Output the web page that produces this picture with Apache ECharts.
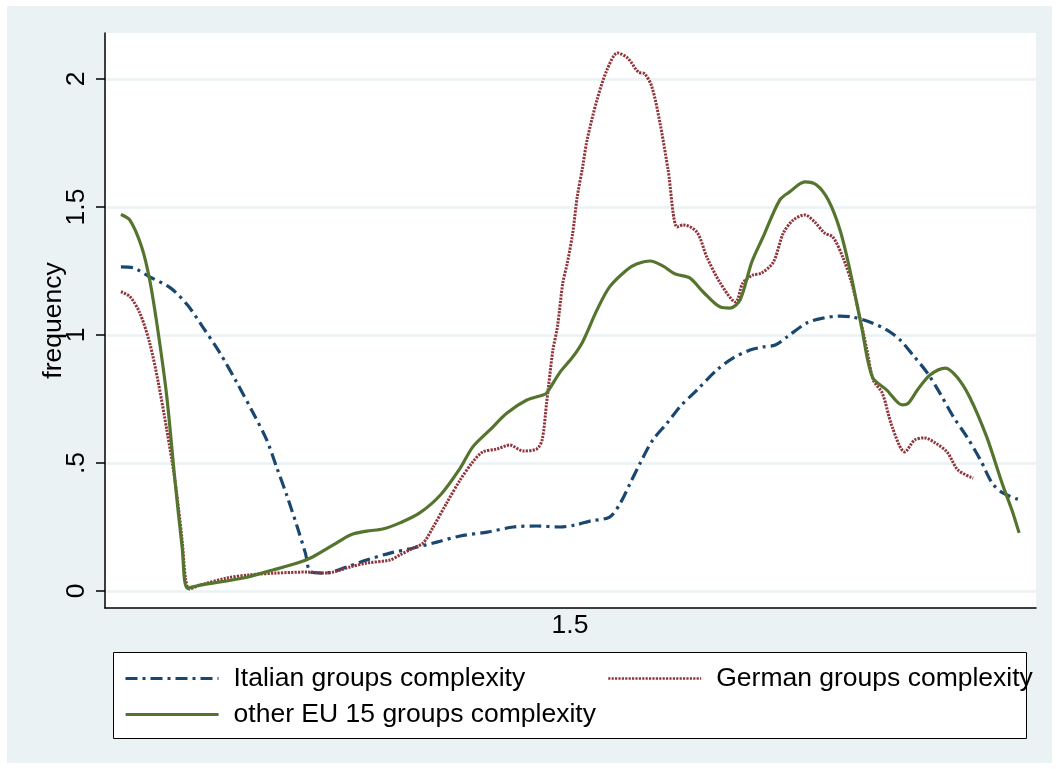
<!DOCTYPE html>
<html>
<head>
<meta charset="utf-8">
<title>Groups complexity density</title>
<script src="https://cdn.jsdelivr.net/npm/echarts@6/dist/echarts.min.js"></script>
<style>
  html, body { margin: 0; padding: 0; background: #ffffff; }
  #chart { position: absolute; left: 0; top: 0; width: 1058px; height: 769px; }
</style>
</head>
<body>
<div id="chart"></div>
<script>
// Tick labels
const yTicks = [0, 0.5, 1, 1.5, 2];
const xTicks = [1.5];

// Series names
const seriesNames = [
  'Italian groups complexity',
  'German groups complexity',
  'other EU 15 groups complexity'
];

// Italian groups: complexity (x) and frequency (y)
const italianX = [1.001, 1.015, 1.033, 1.056, 1.075, 1.092, 1.111, 1.130, 1.148, 1.163,
  1.174, 1.186, 1.197, 1.206, 1.212, 1.228, 1.252, 1.274, 1.300, 1.326,
  1.352, 1.378, 1.408, 1.437, 1.463, 1.489, 1.506, 1.522, 1.544, 1.556,
  1.567, 1.578, 1.592, 1.608, 1.622, 1.641, 1.663, 1.681, 1.700, 1.714,
  1.728, 1.741, 1.763, 1.781, 1.800, 1.814, 1.833, 1.852, 1.867, 1.881,
  1.897, 1.911, 1.926, 1.941, 1.956, 1.969, 1.981, 2.000];
const italianY = [1.266, 1.262, 1.227, 1.184, 1.117, 1.031, 0.930, 0.813, 0.695, 0.590,
  0.484, 0.367, 0.250, 0.148, 0.074, 0.070, 0.094, 0.121, 0.148, 0.168,
  0.191, 0.215, 0.230, 0.250, 0.254, 0.250, 0.258, 0.273, 0.289, 0.344,
  0.422, 0.500, 0.590, 0.656, 0.719, 0.785, 0.863, 0.910, 0.941, 0.953,
  0.961, 0.992, 1.047, 1.066, 1.074, 1.070, 1.051, 1.020, 0.980, 0.922,
  0.852, 0.773, 0.680, 0.602, 0.512, 0.422, 0.383, 0.355];

// German groups
const germanX = [1.001, 1.011, 1.022, 1.033, 1.042, 1.052, 1.061, 1.069, 1.073, 1.077,
  1.089, 1.119, 1.144, 1.174, 1.208, 1.226, 1.237, 1.256, 1.274, 1.300,
  1.311, 1.326, 1.337, 1.348, 1.363, 1.378, 1.392, 1.403, 1.419, 1.433,
  1.448, 1.463, 1.469, 1.474, 1.481, 1.486, 1.492, 1.497, 1.503, 1.508,
  1.514, 1.519, 1.530, 1.541, 1.553, 1.564, 1.576, 1.583, 1.591, 1.600,
  1.609, 1.619, 1.626, 1.641, 1.652, 1.667, 1.684, 1.692, 1.703, 1.713,
  1.726, 1.737, 1.748, 1.761, 1.772, 1.783, 1.792, 1.803, 1.813, 1.822,
  1.830, 1.837, 1.847, 1.858, 1.872, 1.883, 1.894, 1.906, 1.919, 1.931, 1.948];
const germanY = [1.169, 1.150, 1.086, 0.969, 0.824, 0.629, 0.434, 0.199, 0.043, 0.008,
  0.023, 0.051, 0.063, 0.070, 0.074, 0.070, 0.074, 0.094, 0.109, 0.121,
  0.141, 0.168, 0.188, 0.250, 0.344, 0.434, 0.504, 0.543, 0.555, 0.570,
  0.547, 0.555, 0.590, 0.734, 0.941, 1.031, 1.203, 1.281, 1.398, 1.539,
  1.656, 1.762, 1.918, 2.035, 2.102, 2.082, 2.027, 2.020, 1.969, 1.828,
  1.645, 1.422, 1.430, 1.402, 1.305, 1.203, 1.129, 1.203, 1.234, 1.242,
  1.285, 1.398, 1.449, 1.469, 1.441, 1.398, 1.383, 1.305, 1.203, 1.070,
  0.941, 0.824, 0.773, 0.641, 0.543, 0.590, 0.598, 0.578, 0.543, 0.473, 0.441];

// Other EU 15 groups
const otherX = [1.001, 1.011, 1.024, 1.033, 1.042, 1.052, 1.061, 1.069, 1.075, 1.089,
  1.137, 1.170, 1.197, 1.214, 1.237, 1.256, 1.274, 1.292, 1.311, 1.333,
  1.356, 1.378, 1.392, 1.411, 1.430, 1.452, 1.470, 1.474, 1.489, 1.503,
  1.514, 1.530, 1.544, 1.563, 1.574, 1.589, 1.603, 1.617, 1.633, 1.648,
  1.667, 1.678, 1.689, 1.702, 1.714, 1.733, 1.744, 1.761, 1.774, 1.787,
  1.800, 1.811, 1.824, 1.836, 1.852, 1.869, 1.876, 1.886, 1.900, 1.917,
  1.930, 1.944, 1.963, 1.980, 1.991, 1.999];
const otherY = [1.471, 1.449, 1.345, 1.215, 1.020, 0.759, 0.434, 0.173, 0.011, 0.023,
  0.051, 0.082, 0.109, 0.133, 0.180, 0.219, 0.234, 0.242, 0.266, 0.305,
  0.375, 0.480, 0.563, 0.629, 0.695, 0.746, 0.766, 0.773, 0.855, 0.914,
  0.973, 1.098, 1.188, 1.254, 1.277, 1.289, 1.270, 1.238, 1.223, 1.168,
  1.109, 1.105, 1.137, 1.285, 1.379, 1.527, 1.559, 1.598, 1.586, 1.527,
  1.410, 1.254, 1.031, 0.836, 0.785, 0.727, 0.734, 0.785, 0.844, 0.871,
  0.836, 0.758, 0.602, 0.422, 0.316, 0.227];

const pairs = (xs, ys) => xs.map((x, i) => [x, ys[i]]);

const FONT = "'Liberation Sans', Arial, Helvetica, sans-serif";
const BG = '#EAF2F3';
const NAVY = '#1a476f';
const MAROON = '#90353b';
const GREEN = '#55752f';

const legendText = {
  color: '#000', fontSize: 26.5, fontFamily: FONT, padding: [0, 0, 0, 10]
};
// One legend block per entry so the entries sit in two columns
function legendFor(name, left, top, lineWidth) {
  return {
    data: [name], left: left, top: top, orient: 'horizontal',
    itemWidth: 93, itemHeight: 20, selectedMode: false,
    itemStyle: { opacity: 0 },
    lineStyle: { width: lineWidth },
    textStyle: legendText, padding: 0
  };
}

const chart = echarts.init(document.getElementById('chart'), null, { renderer: 'canvas' });
chart.setOption({
  animation: false,
  backgroundColor: 'transparent',
  graphic: [
    { type: 'rect', z: -100, shape: { x: 7, y: 6, width: 1045, height: 757 },
      style: { fill: BG } },
    { type: 'rect', z: -50, shape: { x: 113.5, y: 652.5, width: 913, height: 86 },
      style: { fill: '#ffffff', stroke: '#000', lineWidth: 1 } }
  ],
  grid: {
    left: 105, top: 33, right: 22, bottom: 161,
    show: true, backgroundColor: '#ffffff', borderWidth: 0
  },
  legend: [
    legendFor(seriesNames[0], 124, 665, 3),
    legendFor(seriesNames[1], 607, 665, 2.4),
    legendFor(seriesNames[2], 124, 701, 3.2)
  ],
  xAxis: {
    type: 'value', min: 0.98333, max: 2.01778,
    axisLine: { show: true, onZero: false, lineStyle: { color: '#000', width: 1.5 } },
    axisTick: { show: false, customValues: xTicks },
    axisLabel: { customValues: xTicks, margin: 4, color: '#000', fontSize: 26.5, fontFamily: FONT,
      formatter: v => String(v) },
    splitLine: { show: false }
  },
  yAxis: {
    type: 'value', min: -0.0664, max: 2.1797,
    name: 'frequency', nameLocation: 'middle', nameRotate: 90, nameGap: 38,
    nameMoveOverlap: false,
    nameTextStyle: { color: '#000', fontSize: 26.5, fontFamily: FONT },
    axisLine: { show: true, onZero: false, lineStyle: { color: '#000', width: 1.5 } },
    axisTick: { show: true, customValues: yTicks, length: 9, lineStyle: { color: '#000', width: 1.5 } },
    axisLabel: { customValues: yTicks, rotate: 90, margin: 15, color: '#000', fontSize: 26.5, fontFamily: FONT,
      formatter: v => (v > 0 && v < 1) ? String(v).replace(/^0/, '') : String(v) },
    splitLine: { show: true, lineStyle: { color: BG, width: 2.5 } }
  },
  series: [
    { type: 'line', name: seriesNames[0], data: pairs(italianX, italianY),
      symbol: 'none', showSymbol: false, smooth: 0.3, z: 3,
      itemStyle: { color: NAVY },
      lineStyle: { color: NAVY, width: 3.2, type: [12, 5, 3, 5], cap: 'butt' } },
    { type: 'line', name: seriesNames[1], data: pairs(germanX, germanY),
      symbol: 'none', showSymbol: false, smooth: 0.3, z: 4,
      itemStyle: { color: MAROON },
      lineStyle: { color: MAROON, width: 3, type: [2.2, 1.2], cap: 'butt' } },
    { type: 'line', name: seriesNames[2], data: pairs(otherX, otherY),
      symbol: 'none', showSymbol: false, smooth: 0.3, z: 5,
      itemStyle: { color: GREEN },
      lineStyle: { color: GREEN, width: 3.2, type: 'solid' } }
  ]
});
</script>
</body>
</html>
